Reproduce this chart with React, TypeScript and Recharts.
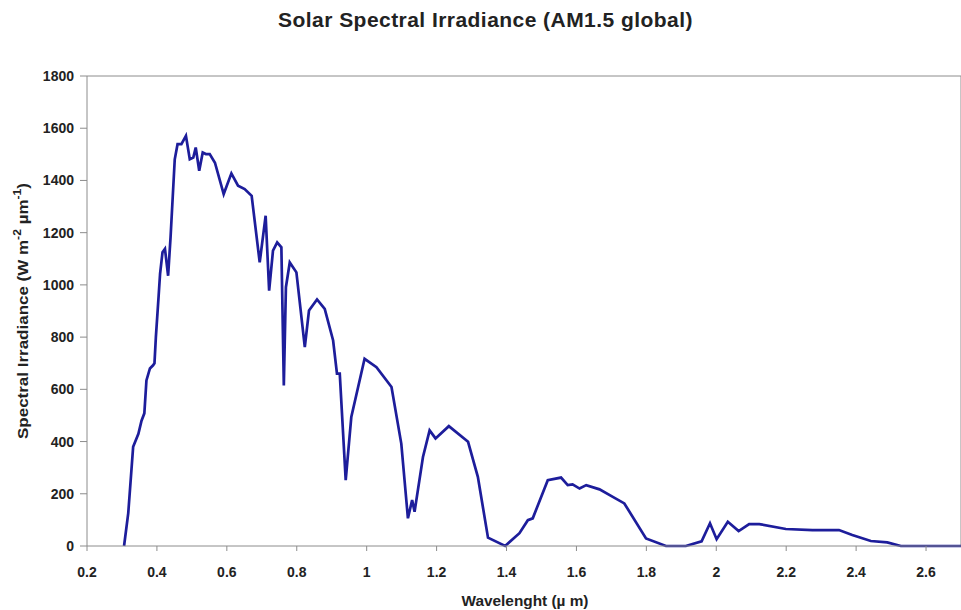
import { Label, Line, LineChart, ReferenceLine, XAxis, YAxis } from "recharts";

const wavelengths = [
  0.306, 0.318, 0.332, 0.347, 0.356, 0.364, 0.37, 0.38, 0.389, 0.393, 0.397, 0.405, 0.409, 0.416,
  0.423, 0.432, 0.439, 0.451, 0.459, 0.47, 0.483, 0.494, 0.504, 0.511, 0.521, 0.531, 0.54, 0.551,
  0.566, 0.591, 0.613, 0.632, 0.651, 0.671, 0.694, 0.711, 0.721, 0.732, 0.744, 0.756, 0.763, 0.769,
  0.78, 0.799, 0.823, 0.835, 0.858, 0.88, 0.904, 0.915, 0.923, 0.94, 0.956, 0.994, 1.028, 1.071,
  1.099, 1.118, 1.13, 1.137, 1.161, 1.18, 1.197, 1.235, 1.29, 1.318, 1.347, 1.396, 1.437, 1.461,
  1.475, 1.518, 1.556, 1.575, 1.589, 1.609, 1.628, 1.666, 1.704, 1.737, 1.799, 1.856, 1.913, 1.958,
  1.982, 2.001, 2.033, 2.064, 2.094, 2.123, 2.199, 2.275, 2.351, 2.389, 2.442, 2.489, 2.528, 2.7,
];

const irradiance = [
  0, 126, 380, 430, 480, 508, 634, 680, 692, 700, 800, 960, 1042, 1125,
  1138, 1035, 1182, 1481, 1539, 1539, 1571, 1481, 1488, 1526, 1437, 1507, 1501, 1501,
  1468, 1348, 1427, 1380, 1367, 1341, 1086, 1265, 978, 1131, 1163, 1144, 615, 991,
  1086, 1048, 762, 902, 944, 908, 787, 660, 660, 252, 494, 717, 685, 609,
  392, 106, 176, 131, 341, 443, 412, 459, 399, 265, 32, 0, 49, 99,
  106, 252, 262, 233, 236, 220, 233, 217, 188, 163, 29, 0, 0, 18,
  87, 26, 93, 57, 84, 84, 65, 61, 61, 42, 19, 14, 0, 0,
];

const xTicks = [0.2, 0.4, 0.6, 0.8, 1, 1.2, 1.4, 1.6, 1.8, 2, 2.2, 2.4, 2.6];
const yTicks = [0, 200, 400, 600, 800, 1000, 1200, 1400, 1600, 1800];

const rows = wavelengths.map((wl, i) => ({ wl, value: irradiance[i] }));

const font = "'Liberation Sans', Arial, sans-serif";
const axisGray = "#8c8c8c";
const ink = "#222";
const tickStyle = { fontSize: 14, fontWeight: 700, fill: ink, fontFamily: font };

// rotated y title with superscript units
function YTitle({ viewBox }: any) {
  const cx = 23;
  const cy = viewBox ? viewBox.y + viewBox.height / 2 : 311;
  return (
    <text
      x={cx}
      y={cy}
      transform={`rotate(-90 ${cx} ${cy})`}
      textAnchor="middle"
      dominantBaseline="central"
      fontFamily={font}
      fontWeight={700}
      fontSize={14}
      fill={ink}
      textLength={256}
      lengthAdjust="spacingAndGlyphs"
    >
      Spectral Irradiance (W m
      <tspan baselineShift="super" fontSize={10}>-2</tspan>
      {" \u00b5m"}
      <tspan baselineShift="super" fontSize={10}>-1</tspan>)
    </text>
  );
}

function XTitle({ viewBox }: any) {
  const cx = viewBox ? viewBox.x + viewBox.width / 2 + 1 : 523;
  return (
    <text
      x={cx}
      y={601}
      textAnchor="middle"
      dominantBaseline="central"
      fontFamily={font}
      fontWeight={700}
      fontSize={14}
      fill={ink}
      textLength={127}
      lengthAdjust="spacingAndGlyphs"
    >
      {"Wavelenght (\u00b5 m)"}
    </text>
  );
}

export default function App() {
  return (
    <div style={{ position: "absolute", left: 0, top: 0, width: 961, height: 610, background: "#fff" }}>
      <div
        style={{
          position: "absolute",
          left: 5,
          top: 8,
          width: 961,
          textAlign: "center",
          fontFamily: font,
          fontWeight: 700,
          fontSize: 21,
          letterSpacing: 0.45,
          color: ink,
        }}
      >
        Solar Spectral Irradiance (AM1.5 global)
      </div>
      <LineChart
        width={961}
        height={610}
        data={rows}
        margin={{ top: 76, right: 0, left: 0, bottom: 0 }}
      >
        <XAxis
          type="number"
          dataKey="wl"
          domain={[0.2, 2.7]}
          ticks={xTicks}
          allowDataOverflow
          height={64}
          tickSize={5}
          tickMargin={16}
          stroke={axisGray}
          tick={tickStyle}
          tickFormatter={(v: number) => String(Number(v.toFixed(1)))}
        >
          <Label content={<XTitle />} />
        </XAxis>
        <YAxis
          type="number"
          domain={[0, 1800]}
          ticks={yTicks}
          width={87}
          tickSize={7}
          tickMargin={6}
          stroke={axisGray}
          tick={tickStyle}
        >
          <Label content={<YTitle />} />
        </YAxis>
        <ReferenceLine y={1800} stroke={axisGray} />
        <ReferenceLine x={2.7} stroke={axisGray} />
        <Line
          type="linear"
          dataKey="value"
          stroke="#1d1d9b"
          strokeWidth={2.7}
          dot={false}
          isAnimationActive={false}
        />
      </LineChart>
    </div>
  );
}
